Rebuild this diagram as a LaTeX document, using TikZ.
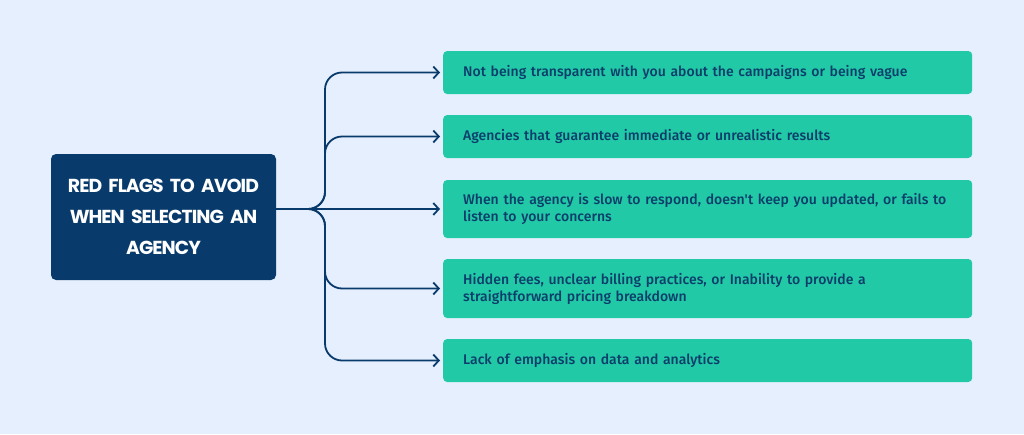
\documentclass[tikz,border=0pt]{standalone}
\usepackage{fontspec}
\usetikzlibrary{arrows.meta}
\newfontfamily\titlefont{Poppins}[UprightFont=* Bold, LetterSpace=-5]
\newfontfamily\bodyfont{Fira Sans}[UprightFont=* Medium]
\definecolor{bg}{HTML}{E6EFFD}
\definecolor{navy}{HTML}{083A6B}
\definecolor{teal}{HTML}{22C9A6}
\definecolor{txt}{HTML}{0B3D6B}
\tikzset{
  item/.style={fill=teal, rounded corners=4pt, anchor=west, minimum width=529pt,
    text width=489pt, inner xsep=20pt, align=left, text=txt,
    font=\bodyfont\fontsize{14}{17}\selectfont},
  link/.style={draw=navy, line width=1.8pt, rounded corners=17pt,
    -{Straight Barb[length=5.5pt,width=12pt,line width=1.8pt]}}
}
\begin{document}
\begin{tikzpicture}[x=1pt,y=-1pt]
\fill[bg] (0,0) rectangle (1024,434);
\useasboundingbox (0,0) rectangle (1024,434);
\node[fill=navy, rounded corners=5pt, minimum width=225pt, minimum height=126pt,
  text width=212pt, inner xsep=2pt, align=center, text=white,
  font=\titlefont\fontsize{18.8}{31}\selectfont] (c) at (163.5,217)
  {RED FLAGS TO AVOID\\ WHEN SELECTING AN\\ AGENCY};
\node[item, minimum height=43pt] (b1) at (443,72.5)
  {Not being transparent with you about the campaigns or being vague};
\node[item, minimum height=43pt] (b2) at (443,136.5)
  {Agencies that guarantee immediate or unrealistic results};
\node[item, minimum height=58pt] (b3) at (443,209)
  {When the agency is slow to respond, doesn't keep you updated, or fails to\\ listen to your concerns};
\node[item, minimum height=59pt] (b4) at (443,288.5)
  {Hidden fees, unclear billing practices, or Inability to provide a\\ straightforward pricing breakdown};
\node[item, minimum height=43pt] (b5) at (443,360.5)
  {Lack of emphasis on data and analytics};
\coordinate (k) at (325,209);
\draw[link] (c.east |- k) -- (k) -- (k |- b1.west) -- ([xshift=-3pt]b1.west);
\draw[link] (c.east |- k) -- (k) -- (k |- b2.west) -- ([xshift=-3pt]b2.west);
\draw[link] (c.east |- k) -- ([xshift=-3pt]b3.west);
\draw[link] (c.east |- k) -- (k) -- (k |- b4.west) -- ([xshift=-3pt]b4.west);
\draw[link] (c.east |- k) -- (k) -- (k |- b5.west) -- ([xshift=-3pt]b5.west);
\end{tikzpicture}
\end{document}
